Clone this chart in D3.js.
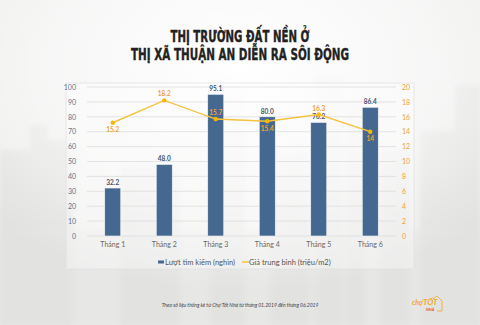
<!DOCTYPE html>
<html>
<head>
<meta charset="utf-8">
<script src="https://cdn.jsdelivr.net/npm/d3@7"></script>
<style>
  html, body { margin: 0; padding: 0; background: #f1f1f0; }
  svg { display: block; }
</style>
</head>
<body>
<svg id="chart" width="480" height="325"></svg>
<script>
// Monthly data, Thuận An (01–06/2019)
const months = ["Tháng 1", "Tháng 2", "Tháng 3", "Tháng 4", "Tháng 5", "Tháng 6"];
const searches = [32.2, 48.0, 95.1, 80.0, 76.2, 86.4];   // Lượt tìm kiếm (nghìn)
const prices = [15.2, 18.2, 15.7, 15.4, 16.3, 14];        // Giá trung bình (triệu/m2)
const priceLabelSide = ["below", "above", "above", "below", "above", "below"];
const leftTicks = [0, 10, 20, 30, 40, 50, 60, 70, 80, 90, 100];
const rightTicks = [0, 2, 4, 6, 8, 10, 12, 14, 16, 18, 20];
const titleLines = ["THỊ TRƯỜNG ĐẤT NỀN Ở", "THỊ XÃ THUẬN AN DIỄN RA SÔI ĐỘNG"];
const seriesNames = ["Lượt tìm kiếm (nghìn)", "Giá trung bình (triệu/m2)"];
const sourceNote = "Theo số liệu thống kê từ Chợ Tốt Nhà từ tháng 01.2019 đến tháng 06.2019";

const svg = d3.select("#chart");
const W = 480, H = 325;

// ---- hazy backdrop ----
const defs = svg.append("defs");
const fog = defs.append("radialGradient").attr("id", "fog")
  .attr("cx", "50%").attr("cy", "20%").attr("r", "70%");
fog.append("stop").attr("offset", "0%").attr("stop-color", "#ffffff").attr("stop-opacity", 1);
fog.append("stop").attr("offset", "60%").attr("stop-color", "#ffffff").attr("stop-opacity", 0.55);
fog.append("stop").attr("offset", "100%").attr("stop-color", "#ffffff").attr("stop-opacity", 0);
defs.append("filter").attr("id", "soft").append("feGaussianBlur").attr("stdDeviation", 2);

svg.append("rect").attr("width", W).attr("height", H).attr("fill", "#ececeb");
const skyline = svg.append("g").attr("filter", "url(#soft)").attr("fill", "#d9d9d8").attr("opacity", 0.55);
[[0,150,30,175],[30,125,18,200],[48,140,25,185],[210,70,35,255],[315,75,28,250],[345,100,20,225],
 [455,85,25,240],[420,130,35,195],[270,150,40,175],[120,165,60,160],[380,150,30,175]]
  .forEach(b => skyline.append("rect").attr("x", b[0]).attr("y", b[1]).attr("width", b[2]).attr("height", b[3]));
svg.append("rect").attr("x", 0).attr("y", 230).attr("width", W).attr("height", 95)
  .attr("fill", "#e4e4e3").attr("opacity", 0.6).attr("filter", "url(#soft)");
svg.append("rect").attr("width", W).attr("height", H).attr("fill", "url(#fog)");

// ---- title ----
const title = svg.append("g")
  .attr("font-family", "'Liberation Sans Narrow', 'DejaVu Sans Condensed', sans-serif")
  .attr("font-weight", "bold").attr("fill", "#222").attr("text-anchor", "middle");
const titleWidths = [139, 218];
titleLines.forEach((t, i) => {
  title.append("text").attr("x", 240).attr("y", 42 + i * 18)
    .attr("font-size", 16.5).attr("textLength", titleWidths[i]).attr("lengthAdjust", "spacingAndGlyphs")
    .attr("stroke", "#222").attr("stroke-width", 0.35)
    .text(t);
});

// ---- chart panel ----
svg.append("rect").attr("x", 66).attr("y", 83).attr("width", 348).attr("height", 186)
  .attr("fill", "#ffffff").attr("fill-opacity", 0.35).attr("stroke", "#e2e2e2").attr("stroke-width", 0.8);

const plot = { left: 87, right: 396, top: 87, bottom: 236 };
const x = d3.scaleBand().domain(months).range([plot.left, plot.right]);
const yL = d3.scaleLinear().domain([0, 100]).range([plot.bottom, plot.top]);
const yR = d3.scaleLinear().domain([0, 20]).range([plot.bottom, plot.top]);

const font = "Lato, 'Open Sans', sans-serif";

// gridlines
svg.append("g").selectAll("line").data(leftTicks).join("line")
  .attr("x1", plot.left).attr("x2", plot.right)
  .attr("y1", d => yL(d)).attr("y2", d => yL(d))
  .attr("stroke", "#dadada").attr("stroke-width", 0.7);

// left axis
const axL = svg.append("g").attr("transform", `translate(${plot.left - 10},0)`)
  .call(d3.axisLeft(yL).tickValues(leftTicks).tickSize(0).tickPadding(1));
axL.select(".domain").remove();
axL.selectAll("text").attr("font-family", font).attr("font-size", 7).attr("fill", "#5b7592");

// right axis
const axR = svg.append("g").attr("transform", `translate(${plot.right + 6},0)`)
  .call(d3.axisRight(yR).tickValues(rightTicks).tickSize(0).tickPadding(0));
axR.select(".domain").remove();
axR.selectAll("text").attr("font-family", font).attr("font-size", 7).attr("fill", "#f0a236");

// bottom axis labels
const axB = svg.append("g").attr("transform", `translate(0,${plot.bottom + 3})`)
  .call(d3.axisBottom(x).tickSize(0).tickPadding(3));
axB.select(".domain").remove();
axB.selectAll("text").attr("font-family", font).attr("font-size", 7).attr("fill", "#666");

// bars
const barW = 16;
svg.append("g").selectAll("rect").data(searches).join("rect")
  .attr("x", (d, i) => x(months[i]) + x.bandwidth() / 2 - barW / 2)
  .attr("y", d => yL(d))
  .attr("width", barW)
  .attr("height", d => yL(0) - yL(d))
  .attr("fill", "#44688f").attr("stroke", "#f4f6f8").attr("stroke-width", 0.6);

svg.append("g").selectAll("text").data(searches).join("text")
  .attr("x", (d, i) => x(months[i]) + x.bandwidth() / 2)
  .attr("y", d => yL(d) - 3)
  .attr("text-anchor", "middle")
  .attr("font-family", font).attr("font-size", 6.5).attr("font-weight", "bold")
  .attr("fill", "#44546a")
  .text(d => d.toFixed(1));

// price line
const line = d3.line()
  .x((d, i) => x(months[i]) + x.bandwidth() / 2)
  .y(d => yR(d));
svg.append("path").datum(prices).attr("d", line)
  .attr("fill", "none").attr("stroke", "#f6c33f").attr("stroke-width", 1.4);
svg.append("g").selectAll("circle").data(prices).join("circle")
  .attr("cx", (d, i) => x(months[i]) + x.bandwidth() / 2)
  .attr("cy", d => yR(d))
  .attr("r", 2.2).attr("fill", "#f6b800");
svg.append("g").selectAll("text").data(prices).join("text")
  .attr("x", (d, i) => x(months[i]) + x.bandwidth() / 2)
  .attr("y", (d, i) => yR(d) + (priceLabelSide[i] === "above" ? -4 : 9.5))
  .attr("text-anchor", "middle")
  .attr("font-family", font).attr("font-size", 6.5).attr("font-weight", "bold")
  .attr("fill", "#f0a236")
  .text(d => d);

// legend
const lg = svg.append("g").attr("font-family", font).attr("font-size", 7.5).attr("fill", "#555");
lg.append("rect").attr("x", 158).attr("y", 260.5).attr("width", 6).attr("height", 3).attr("fill", "#44688f");
lg.append("text").attr("x", 165).attr("y", 265).text(seriesNames[0]);
lg.append("line").attr("x1", 242).attr("x2", 249).attr("y1", 262).attr("y2", 262)
  .attr("stroke", "#f6c33f").attr("stroke-width", 1.5);
lg.append("text").attr("x", 249).attr("y", 265).text(seriesNames[1]);

// source note
svg.append("text").attr("x", 240).attr("y", 307).attr("text-anchor", "middle")
  .attr("font-family", font).attr("font-style", "italic").attr("font-size", 5)
  .attr("fill", "#444").text(sourceNote);

// brand mark
const logo = svg.append("g").attr("font-family", font).attr("font-weight", "bold").attr("font-style", "italic");
logo.append("text").attr("x", 412).attr("y", 305).attr("font-size", 7).attr("fill", "#f5a623")
  .text("chợ").append("tspan").attr("font-size", 8).text("TỐT");
logo.append("text").attr("x", 426).attr("y", 311).attr("font-size", 4).attr("fill", "#e8501e").text("NHÀ");
logo.append("path").attr("d", "M433,299 L437,296 L442,301 L442,311 L437,311")
  .attr("fill", "none").attr("stroke", "#f5a623").attr("stroke-width", 0.8);
</script>
</body>
</html>
